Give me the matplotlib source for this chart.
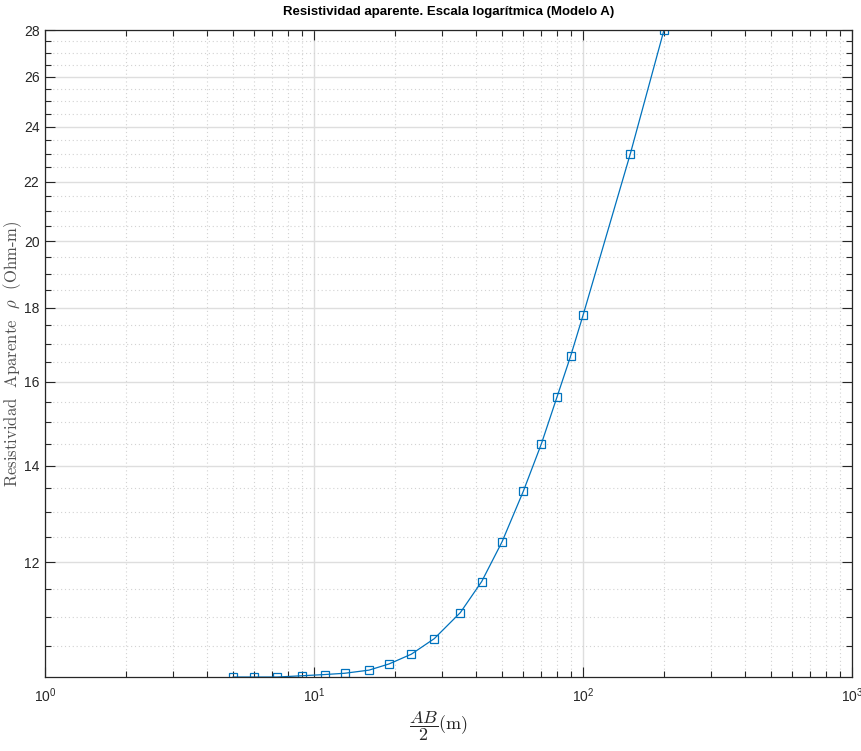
import numpy as np
import matplotlib
matplotlib.use("Agg")
import matplotlib.pyplot as plt
from matplotlib.ticker import FixedLocator, LogLocator, NullFormatter, LogFormatterSciNotation

# Data
ab2 = [5, 6, 7.3, 9, 11, 13, 16, 19, 23, 28, 35, 42, 50, 60, 70, 80, 90, 100, 150, 200]
rho = [10.00, 10.00, 10.00, 10.02, 10.04, 10.06, 10.11, 10.21, 10.37, 10.63,
       11.08, 11.64, 12.40, 13.44, 14.49, 15.61, 16.67, 17.78, 23.0, 28.0]

y_major = [12, 14, 16, 18, 20, 22, 24, 26, 28]
y_minor = [10.5, 11, 11.5, 12.5, 13, 13.5, 14.5, 15, 15.5, 16.5, 17, 17.5,
           18.5, 19, 19.5, 20.5, 21, 21.5, 22.5, 23, 23.5, 24.5, 25, 25.5,
           26.5, 27, 27.5]

plt.rcParams['font.family'] = ['Liberation Sans', 'DejaVu Sans']
plt.rcParams['mathtext.fontset'] = 'cm'

fig = plt.figure(figsize=(8.62, 7.51), dpi=100)
ax = fig.add_axes([0.0522, 0.0985, 0.9362, 0.8615])

ax.plot(ab2, rho, color='#0072BD', lw=0.9, marker='s', ms=5.5,
        mfc='none', mec='#0072BD', mew=0.9)

ax.set_xscale('log')
ax.set_yscale('log')
ax.set_xlim(1, 1000)
ax.set_ylim(10, 28)

ax.xaxis.set_major_locator(LogLocator(base=10, numticks=10))
ax.xaxis.set_major_formatter(LogFormatterSciNotation())
ax.xaxis.set_minor_locator(LogLocator(base=10, subs=np.arange(2, 10), numticks=20))
ax.xaxis.set_minor_formatter(NullFormatter())

ax.yaxis.set_major_locator(FixedLocator(y_major))
ax.yaxis.set_major_formatter(plt.FuncFormatter(lambda v, p: f"{v:g}"))
ax.yaxis.set_minor_locator(FixedLocator(y_minor))
ax.yaxis.set_minor_formatter(NullFormatter())

ax.grid(True, which='major', color='#dedede', lw=1.0, ls='-')
ax.grid(True, which='minor', color='#d2d2d2', lw=0.8, ls=(0, (1, 2.5)))
ax.set_axisbelow(True)

ax.tick_params(which='both', direction='in', top=True, right=True,
               colors='#262626', labelsize=10)
ax.tick_params(which='major', length=7, width=0.8)
ax.tick_params(which='minor', length=4, width=0.8)
ax.tick_params(axis='x', pad=7)
ax.tick_params(axis='y', pad=4)
for s in ax.spines.values():
    s.set_color('#262626')
    s.set_linewidth(0.9)

ax.set_title('Resistividad aparente. Escala logarítmica (Modelo A)',
             fontsize=9.5, fontweight='bold', pad=11)
ax.set_xlabel(r'$\dfrac{AB}{2}$(m)', fontfamily='cmr10', fontsize=13,
              color='#262626')
ax.xaxis.set_label_coords(0.487, -0.05, transform=ax.transAxes)
ax.xaxis.label.set_va('top')
ax.set_ylabel(r'Resistividad  Aparente  $\rho$  (Ohm-m)', fontfamily='cmr10',
              fontsize=12, color='#505050')
ax.yaxis.set_label_coords(-0.026, 0.5)

fig.savefig('out.png', dpi=100)
